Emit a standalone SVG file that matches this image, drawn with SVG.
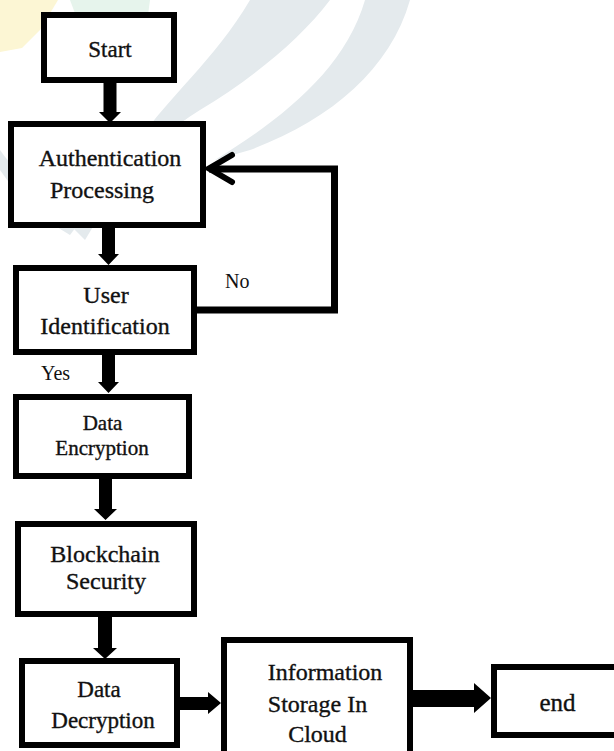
<svg xmlns="http://www.w3.org/2000/svg" width="614" height="751" viewBox="0 0 614 751">
<style>
  .box { fill: #ffffff; stroke: #000000; stroke-width: 6; }
  .t { font-family: "Liberation Serif", "Times New Roman", serif; fill: #111111; stroke: #111111; stroke-width: 0.35; text-anchor: middle; }
  .lbl { font-family: "Liberation Serif", "Times New Roman", serif; fill: #111111; font-size: 20px; }
  .wm { fill: #e4eaed; }
</style>
<rect width="614" height="751" fill="#ffffff"/>
<g id="watermark">
  <path d="M0,0 L58,0 L40,30 L22,48 L0,52 Z" fill="#fcf6d4"/>
  <path d="M70,0 L150,0 L145,38 L85,40 Z" fill="#e6f4ec"/>
  <path class="wm" d="M250,0 L330,0 C300,40 250,80 200,110 C175,125 160,140 150,160 L140,140 C165,100 215,60 250,0 Z"/>
  <path class="wm" d="M365,0 L410,0 C390,70 330,120 250,150 L215,160 C280,120 345,70 365,0 Z"/>
  <path class="wm" d="M0,170 C20,200 45,220 70,235 L85,215 C55,205 25,185 0,150 Z"/>
  <path class="wm" d="M60,215 L85,240 L100,215 L85,228 Z"/>
  <path class="wm" d="M215,55 C200,80 185,100 170,120 L185,120 C200,95 215,75 230,60 Z"/>
</g>
<g id="connectors">
  <path d="M103.5,83 H116.5 V112 H121 L110,123 L99,112 H103.5 Z" fill="#000"/>
  <path d="M102,228 H115 V254 H119 L108.5,265 L98,254 H102 Z" fill="#000"/>
  <path d="M102,355 H115 V382 H119 L108.5,393 L98,382 H102 Z" fill="#000"/>
  <path d="M99,479 H112 V509 H117 L105.5,520 L94,509 H99 Z" fill="#000"/>
  <path d="M98,617 H112 V648 H117 L105,659 L93,648 H98 Z" fill="#000"/>
  <path d="M180,697 H208 V692 L221,703 L208,714 V710 H180 Z" fill="#000"/>
  <path d="M413,690 H474 V683 L491,698 L474,713 V707 H413 Z" fill="#000"/>
  <path d="M197,310 H334.5 V169 H209" fill="none" stroke="#000" stroke-width="7"/>
  <path d="M232,155 L209,168.5 L232,182" fill="none" stroke="#000" stroke-width="6" stroke-linejoin="miter" stroke-linecap="round"/>
  <text class="lbl" x="225" y="288">No</text>
  <text class="lbl" x="41" y="380">Yes</text>
</g>
<g id="start">
  <rect class="box" x="44" y="15" width="130" height="65"/>
  <text class="t" x="110" y="57" font-size="23">Start</text>
</g>
<g id="auth">
  <rect class="box" x="11" y="124" width="192" height="101"/>
  <text class="t" x="110" y="166" font-size="24">Authentication</text>
  <text class="t" x="102" y="198" font-size="24">Processing</text>
</g>
<g id="user">
  <rect class="box" x="16" y="268" width="178" height="84"/>
  <text class="t" x="106" y="303" font-size="24">User</text>
  <text class="t" x="105" y="334" font-size="24">Identification</text>
</g>
<g id="encryption">
  <rect class="box" x="16" y="397" width="173" height="79"/>
  <text class="t" x="102.5" y="430" font-size="21">Data</text>
  <text class="t" x="102" y="455" font-size="21">Encryption</text>
</g>
<g id="blockchain">
  <rect class="box" x="18" y="524" width="176" height="90"/>
  <text class="t" x="105" y="562" font-size="24">Blockchain</text>
  <text class="t" x="106" y="589" font-size="24">Security</text>
</g>
<g id="decryption">
  <rect class="box" x="22" y="661" width="155" height="84"/>
  <text class="t" x="99" y="697" font-size="23">Data</text>
  <text class="t" x="103" y="728" font-size="23">Decryption</text>
</g>
<g id="storage">
  <rect class="box" x="224" y="640" width="186" height="125"/>
  <text class="t" x="325" y="680" font-size="24">Information</text>
  <text class="t" x="317.5" y="712" font-size="24">Storage In</text>
  <text class="t" x="317.5" y="742" font-size="24">Cloud</text>
</g>
<g id="end">
  <rect class="box" x="494" y="667" width="130" height="68"/>
  <text class="t" x="557.5" y="711" font-size="25">end</text>
</g>
</svg>
